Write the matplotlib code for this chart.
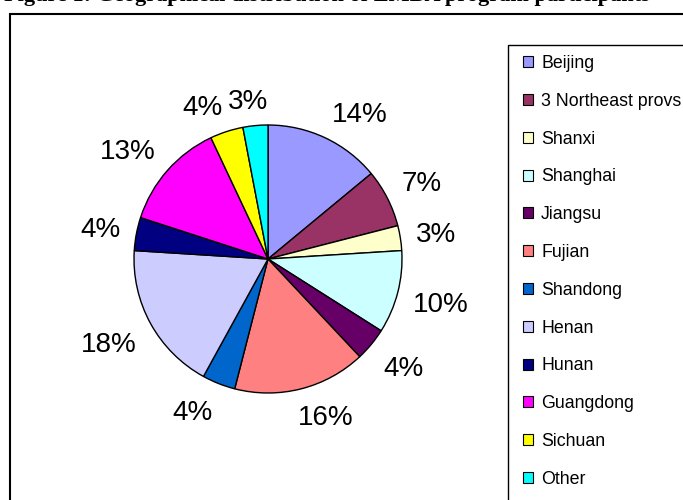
import numpy as np
import matplotlib
matplotlib.use("Agg")
import matplotlib.pyplot as plt
from matplotlib.patches import Rectangle, Patch

categories = ["Beijing", "3 Northeast provs", "Shanxi", "Shanghai", "Jiangsu", "Fujian",
              "Shandong", "Henan", "Hunan", "Guangdong", "Sichuan", "Other"]
values = [14, 7, 3, 10, 4, 16, 4, 18, 4, 13, 4, 3]
colors = ["#9999FF", "#993366", "#FFFFCC", "#CCFFFF", "#660066", "#FF8080",
          "#0066CC", "#CCCCFF", "#000080", "#FF00FF", "#FFFF00", "#00FFFF"]
title = "Figure 1: Geographical distribution of EMBA program participants"

W, H = 683, 500
fig = plt.figure(figsize=(W / 100, H / 100), dpi=100)
fig.patch.set_facecolor("white")

# title, clipped at the top of the image as in the source
fig.text(4 / W, 1 - 1 / H, title, ha="left", va="baseline",
         fontsize=16, fontweight="bold", family="Liberation Serif")

# outer chart frame (extends beyond the image right/bottom)
fig.patches.append(Rectangle((10 / W, -0.1), 1.2, (H - 14) / H + 0.1,
                             transform=fig.transFigure, fill=False,
                             edgecolor="black", linewidth=1.5))

# pie
cx, cy, r = 268, 259, 134
ax = fig.add_axes([(cx - r) / W, (H - cy - r) / H, 2 * r / W, 2 * r / H])
wedges, texts, autotexts = ax.pie(
    values, colors=colors, startangle=90, counterclock=False,
    autopct="%1.0f%%", pctdistance=1.25,
    wedgeprops=dict(edgecolor="black", linewidth=1.0),
    textprops=dict(fontsize=20, family="Liberation Sans", color="black"))
ax.set_xlim(-1, 1)
ax.set_ylim(-1, 1)
ax.set_aspect("equal")
ax.axis("off")

# Excel-like outside-end label placement: label box attached to a circle
fig.canvas.draw()
renderer = fig.canvas.get_renderer()
px_per_unit = r  # 1 data unit = r pixels
R_lab = 1.12
for w, t in zip(wedges, autotexts):
    th = np.deg2rad((w.theta1 + w.theta2) / 2)
    c, s = np.cos(th), np.sin(th)
    bb = t.get_window_extent(renderer)
    hw = bb.width / 2 / px_per_unit
    hh = 11 / px_per_unit
    fx = np.clip(c * 3, -1, 1)
    fy = np.clip(s * 2, -1, 1)
    t.set_position((R_lab * c + hw * fx, R_lab * s + hh * fy))
    t.set_ha("center")
    t.set_va("center_baseline")

# legend box
fig.patches.append(Rectangle((508 / W, -0.1), 0.5, (H - 45) / H + 0.1,
                             transform=fig.transFigure, fill=False,
                             edgecolor="black", linewidth=1.0))
handles = [Patch(facecolor=c, edgecolor="black", linewidth=0.8) for c in colors]
leg = fig.legend(handles, categories, loc="upper left",
                 bbox_to_anchor=(523 / W, 1 - 55 / H), frameon=False,
                 prop=dict(family="Liberation Sans", size=12.8),
                 handlelength=0.57, handleheight=0.57, handletextpad=0.45,
                 labelspacing=1.17, borderpad=0, borderaxespad=0)

fig.savefig("out.png", dpi=100)
